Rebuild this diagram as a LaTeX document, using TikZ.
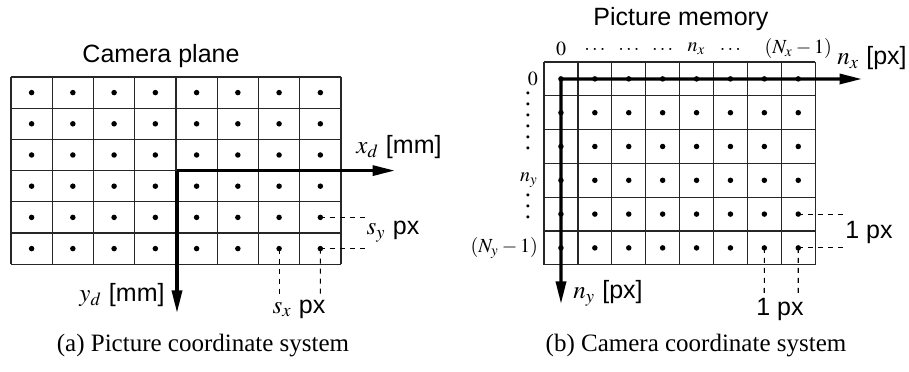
\documentclass[tikz,border=0pt]{standalone}
\usepackage{mathptmx}
\usepackage{fontspec}
\setmainfont{Liberation Serif}
\setsansfont{Liberation Sans}
\usetikzlibrary{arrows.meta}
% vertical runs of dots beside the row indices
\newcommand{\rowdotsix}{\vbox{\baselineskip=4.4pt\lineskiplimit=0pt\hbox{.}\hbox{.}\hbox{.}\hbox{.}\hbox{.}\hbox{.}}}
\newcommand{\rowdotthree}{\vbox{\baselineskip=4.4pt\lineskiplimit=0pt\hbox{.}\hbox{.}\hbox{.}}}

\begin{document}
\begin{tikzpicture}[x=0.4pt,y=-0.4pt,
  cell/.style={draw=black!85,line width=0.55pt},
  pix/.style={circle,fill,inner sep=0pt,minimum size=2.2pt},
  axis/.style={-{Triangle[length=9pt,width=4pt]},line width=1.3pt},
  guide/.style={dash pattern=on 2pt off 2pt,line width=0.45pt},
  lbl/.style={font=\sffamily,inner sep=1pt},
  idx/.style={font=\footnotesize,inner sep=1pt},
  rdots/.style={inner sep=0pt}]
  \useasboundingbox (0,0) rectangle (909,372);
  % Left: camera plane, 8 x 6 cells
  \node[lbl] (camtitle) at (161,56) {Camera plane};
  \foreach \i in {0,...,8} \draw[cell] (11+41.25*\i,77) -- (11+41.25*\i,264.2);
  \foreach \j in {0,...,6} \draw[cell] (11,77+31.2*\j) -- (341,77+31.2*\j);
  \foreach \i in {0,...,7}
    \foreach \j in {0,...,5}
      \node[pix] (a\i\j) at (11+41.25*\i+20.6,77+31.2*\j+15.6) {};
  \coordinate (orgA) at (177,170.6);
  \coordinate (xendA) at (395,170.6);
  \coordinate (yendA) at (177,313);
  \draw[axis] (orgA) -- (xendA);
  \draw[axis] (orgA) -- (yendA);
  \node[lbl] (xdA) at (399,147) {$x_d$ [mm]};
  \node[lbl] (ydA) at (122,295) {$y_d$ [mm]};
  % pixel pitch
  \coordinate (gy1A) at (367,217.4);
  \coordinate (gy2A) at (367,248.6);
  \coordinate (gx1A) at (279.1,295);
  \coordinate (gx2A) at (320.4,295);
  \draw[guide] (a74.center) -- (gy1A);
  \draw[guide] (a75.center) -- (gy2A);
  \draw[guide] (a65.center) -- (gx1A);
  \draw[guide] (a75.center) -- (gx2A);
  \node[lbl] (syA) at (393,232) {$s_y$ px};
  \node[lbl] (sxA) at (299,309) {$s_x$ px};
  \node (capA) at (203,346) {(a) Picture coordinate system};
  % Right: picture memory, 8 x 6 cells
  \node[lbl] (memtitle) at (681,19) {Picture memory};
  \foreach \i in {0,...,8} \draw[cell] (544+33.9*\i,62) -- (544+33.9*\i,264.8);
  \foreach \j in {0,...,6} \draw[cell] (544,62+33.8*\j) -- (815.2,62+33.8*\j);
  \foreach \i in {0,...,7}
    \foreach \j in {0,...,5}
      \node[pix] (b\i\j) at (544+33.9*\i+16.95,62+33.8*\j+16.9) {};
  \coordinate (xendB) at (862,79);
  \coordinate (yendB) at (561,304);
  \draw[axis] (b00.center) -- (xendB);
  \draw[axis] (b00.center) -- (yendB);
  \node[lbl] (nxB) at (872,58) {$n_x$ [px]};
  \node[lbl] (nyB) at (608,293) {$n_y$ [px]};
  % column and row indices
  \foreach \lab [count=\i from 0] in {0,\dots,\dots,\dots,n_x,\dots,{},(N_x-1)}
    \node[idx] (cx\i) at (561+33.9*\i,49) {$\lab$};
  \node[idx,anchor=east] (ry0) at (541,79) {$0$};
  \node[rdots] (rdots1) at (528,121) {\rowdotsix};
  \node[idx,anchor=east] (ry3) at (541,180) {$n_y$};
  \node[rdots] (rdots2) at (528,206) {\rowdotthree};
  \node[idx,anchor=east] (ry5) at (541,248) {$(N_y-1)$};
  % pixel pitch
  \coordinate (gy1B) at (843,214.1);
  \coordinate (gy2B) at (843,247.9);
  \coordinate (gx1B) at (764.3,295);
  \coordinate (gx2B) at (798.2,295);
  \draw[guide] (b74.center) -- (gy1B);
  \draw[guide] (b75.center) -- (gy2B);
  \draw[guide] (b65.center) -- (gx1B);
  \draw[guide] (b75.center) -- (gx2B);
  \node[lbl] (pyB) at (869,232) {1 px};
  \node[lbl] (pxB) at (780,309) {1 px};
  \node (capB) at (696,346) {(b) Camera coordinate system};
\end{tikzpicture}
\end{document}
